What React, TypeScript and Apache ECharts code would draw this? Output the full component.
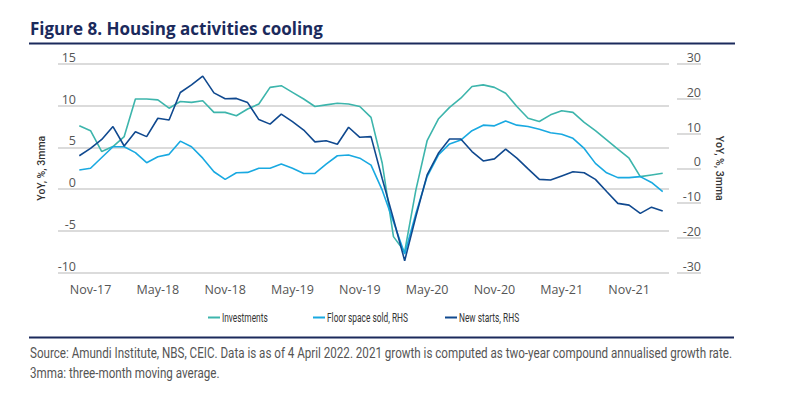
import React, { useEffect, useRef } from "react";
import * as echarts from "echarts";

const months = [
  "Oct-17", "Nov-17", "Dec-17",
  "Jan-18", "Feb-18", "Mar-18", "Apr-18", "May-18", "Jun-18", "Jul-18", "Aug-18", "Sep-18", "Oct-18", "Nov-18", "Dec-18",
  "Jan-19", "Feb-19", "Mar-19", "Apr-19", "May-19", "Jun-19", "Jul-19", "Aug-19", "Sep-19", "Oct-19", "Nov-19", "Dec-19",
  "Jan-20", "Feb-20", "Mar-20", "Apr-20", "May-20", "Jun-20", "Jul-20", "Aug-20", "Sep-20", "Oct-20", "Nov-20", "Dec-20",
  "Jan-21", "Feb-21", "Mar-21", "Apr-21", "May-21", "Jun-21", "Jul-21", "Aug-21", "Sep-21", "Oct-21", "Nov-21", "Dec-21",
  "Jan-22", "Feb-22",
];

const tickLabels = ["Nov-17", "May-18", "Nov-18", "May-19", "Nov-19", "May-20", "Nov-20", "May-21", "Nov-21"];

// Investments, YoY %, 3mma (left axis)
const investments = [
  7.6, 7.0, 4.5, 5.1, 6.3, 10.8, 10.8, 10.7, 9.7, 10.5, 10.4, 10.6, 9.2, 9.2, 8.8, 9.6, 10.2, 12.2, 12.4, 11.6,
  10.8, 9.9, 10.1, 10.3, 10.2, 9.9, 8.6, 3.1, -5.7, -7.5, -0.1, 5.8, 8.4, 9.8, 10.9, 12.3, 12.5, 12.2, 11.5, 9.9,
  8.5, 8.1, 8.9, 9.4, 9.2, 8.0, 7.0, 5.9, 4.8, 3.7, 1.5, 1.7, 1.9,
];

// Floor space sold, YoY %, 3mma (right axis)
const floorSpace = [
  -0.5, 0.0, 3.1, 6.2, 6.2, 4.5, 1.6, 3.3, 4.0, 7.8, 6.2, 2.9, -1.0, -3.2, -1.3, -1.2, 0.0, 0.0, 1.2, 0.0,
  -1.5, -1.5, 1.2, 3.6, 3.8, 2.9, 0.9, -6.3, -15.4, -24.7, -13.0, -2.4, 3.8, 7.0, 8.1, 10.8, 12.4, 12.2, 13.6, 12.4,
  12.0, 11.2, 10.2, 9.8, 8.6, 5.7, 1.4, -1.3, -2.7, -2.7, -2.4, -4.1, -6.7,
];

// New starts, YoY %, 3mma (right axis)
const newStarts = [
  3.6, 5.7, 8.3, 12.0, 6.4, 10.5, 9.1, 14.4, 13.9, 21.8, 24.0, 26.5, 21.7, 20.0, 20.1, 18.9, 14.0, 12.7, 15.6, 13.4,
  11.0, 7.6, 7.9, 6.9, 11.8, 8.9, 9.1, -3.0, -14.6, -26.6, -13.9, -1.9, 4.3, 8.4, 8.4, 4.8, 2.1, 2.7, 5.5, 2.9,
  -0.2, -3.2, -3.4, -2.2, -1.0, -1.3, -3.2, -6.7, -10.1, -10.6, -13.0, -11.2, -12.3,
];

const seriesNames = ["Investments", "Floor space sold, RHS", "New starts, RHS"];
const seriesColors = ["#3db5ac", "#19a9e1", "#10498f"];

const sourceLines = [
  "Source: Amundi Institute, NBS, CEIC. Data is as of 4 April 2022. 2021 growth is computed as two-year compound annualised growth rate.",
  "3mma: three-month moving average.",
];

const NAVY = "#1b2a5c";
const GREY_TEXT = "#555555";
const AXIS_FONT = "'Open Sans', 'Lato', sans-serif";
const SOURCE_FONT = "15.5px Roboto, sans-serif";
const LEGEND_FONT = "13.5px Roboto, sans-serif";

function measure(text: string, font: string): number {
  const ctx = document.createElement("canvas").getContext("2d");
  if (!ctx) return text.length * 7;
  ctx.font = font;
  return ctx.measureText(text).width;
}

export default function App() {
  const ref = useRef<HTMLDivElement>(null);

  useEffect(() => {
    if (!ref.current) return;
    const chart = echarts.init(ref.current, null, { renderer: "svg" });
    const toPairs = (vals: number[]) => vals.map((v, k) => [k, v]);

    // condensed look: squeeze text to the reference widths
    const srcScale = 703 / measure(sourceLines[0], SOURCE_FONT);
    const legScale = 81 / measure(seriesNames[1], LEGEND_FONT);
    const legendPos = [208, 313, 445];
    const legendY = 317.5;

    const legendGraphics: any[] = [];
    seriesNames.forEach((n, i) => {
      legendGraphics.push({
        type: "line",
        shape: { x1: legendPos[i], y1: legendY, x2: legendPos[i] + 12, y2: legendY },
        style: { stroke: seriesColors[i], lineWidth: 2 },
      });
      legendGraphics.push({
        type: "text",
        x: legendPos[i] + 14,
        y: legendY,
        scaleX: legScale,
        style: { text: n, font: LEGEND_FONT, fill: "#333", verticalAlign: "middle", align: "left" },
      });
    });

    chart.setOption({
      animation: false,
      backgroundColor: "#ffffff",
      grid: { left: 58, right: 131, top: 64, bottom: 130.5, containLabel: false },
      xAxis: {
        type: "value",
        min: -1.9,
        max: 52.56,
        axisLine: { show: false },
        axisTick: { show: false },
        splitLine: { show: false },
        axisLabel: {
          customValues: tickLabels.map((t) => months.indexOf(t)),
          formatter: (v: number) => months[Math.round(v)] ?? "",
          color: GREY_TEXT,
          fontFamily: AXIS_FONT,
          fontSize: 12.5,
          margin: 10,
        },
      },
      yAxis: [
        {
          type: "value",
          min: -10,
          max: 15,
          interval: 5,
          position: "left",
          name: "YoY, %, 3mma",
          nameLocation: "middle",
          nameGap: 11,
          nameTextStyle: { fontFamily: "Roboto, sans-serif", fontSize: 10.5, color: "#333", fontWeight: 500 },
          axisLine: { show: false },
          axisTick: { show: false },
          splitLine: { show: true, lineStyle: { color: "#cfcfcf", width: 1.5 } },
          axisLabel: {
            inside: true,
            align: "right",
            verticalAlign: "bottom",
            margin: 18,
            color: GREY_TEXT,
            fontFamily: AXIS_FONT,
            fontSize: 12.5,
          },
        },
        {
          type: "value",
          min: -30,
          max: 30,
          interval: 10,
          position: "right",
          offset: 8,
          name: "YoY, %, 3mma",
          nameLocation: "middle",
          nameRotate: -90,
          nameGap: 37,
          nameTextStyle: { fontFamily: "Roboto, sans-serif", fontSize: 10.5, color: "#333", fontWeight: 500 },
          axisLine: { show: false },
          axisTick: { show: true, length: 24, lineStyle: { color: "#cfcfcf", width: 1.5 } },
          splitLine: { show: false },
          axisLabel: {
            align: "right",
            verticalAlign: "bottom",
            margin: 24,
            color: GREY_TEXT,
            fontFamily: AXIS_FONT,
            fontSize: 12.5,
          },
        },
      ],
      series: [
        {
          name: seriesNames[0],
          type: "line",
          yAxisIndex: 0,
          data: toPairs(investments),
          showSymbol: false,
          lineStyle: { color: seriesColors[0], width: 1.6 },
          itemStyle: { color: seriesColors[0] },
        },
        {
          name: seriesNames[1],
          type: "line",
          yAxisIndex: 1,
          data: toPairs(floorSpace),
          showSymbol: false,
          lineStyle: { color: seriesColors[1], width: 1.6 },
          itemStyle: { color: seriesColors[1] },
        },
        {
          name: seriesNames[2],
          type: "line",
          yAxisIndex: 1,
          data: toPairs(newStarts),
          showSymbol: false,
          lineStyle: { color: seriesColors[2], width: 1.6 },
          itemStyle: { color: seriesColors[2] },
        },
      ],
      graphic: [
        {
          type: "text",
          x: 30,
          y: 28,
          style: {
            text: "Figure 8. Housing activities cooling",
            fill: NAVY,
            font: "bold 17px 'Open Sans', 'Lato', sans-serif",
            verticalAlign: "middle",
          },
        },
        {
          type: "line",
          shape: { x1: 29, y1: 43.5, x2: 735, y2: 43.5 },
          style: { stroke: NAVY, lineWidth: 2 },
        },
        {
          type: "line",
          shape: { x1: 29, y1: 337.5, x2: 734, y2: 337.5 },
          style: { stroke: NAVY, lineWidth: 2 },
        },
        ...legendGraphics,
        {
          type: "text",
          x: 30,
          y: 352,
          scaleX: srcScale,
          style: { text: sourceLines[0], fill: GREY_TEXT, font: SOURCE_FONT, verticalAlign: "middle" },
        },
        {
          type: "text",
          x: 30,
          y: 372,
          scaleX: srcScale,
          style: { text: sourceLines[1], fill: GREY_TEXT, font: SOURCE_FONT, verticalAlign: "middle" },
        },
      ],
    });

    return () => chart.dispose();
  }, []);

  return <div ref={ref} style={{ width: 800, height: 403, position: "absolute", left: 0, top: 0 }} />;
}
